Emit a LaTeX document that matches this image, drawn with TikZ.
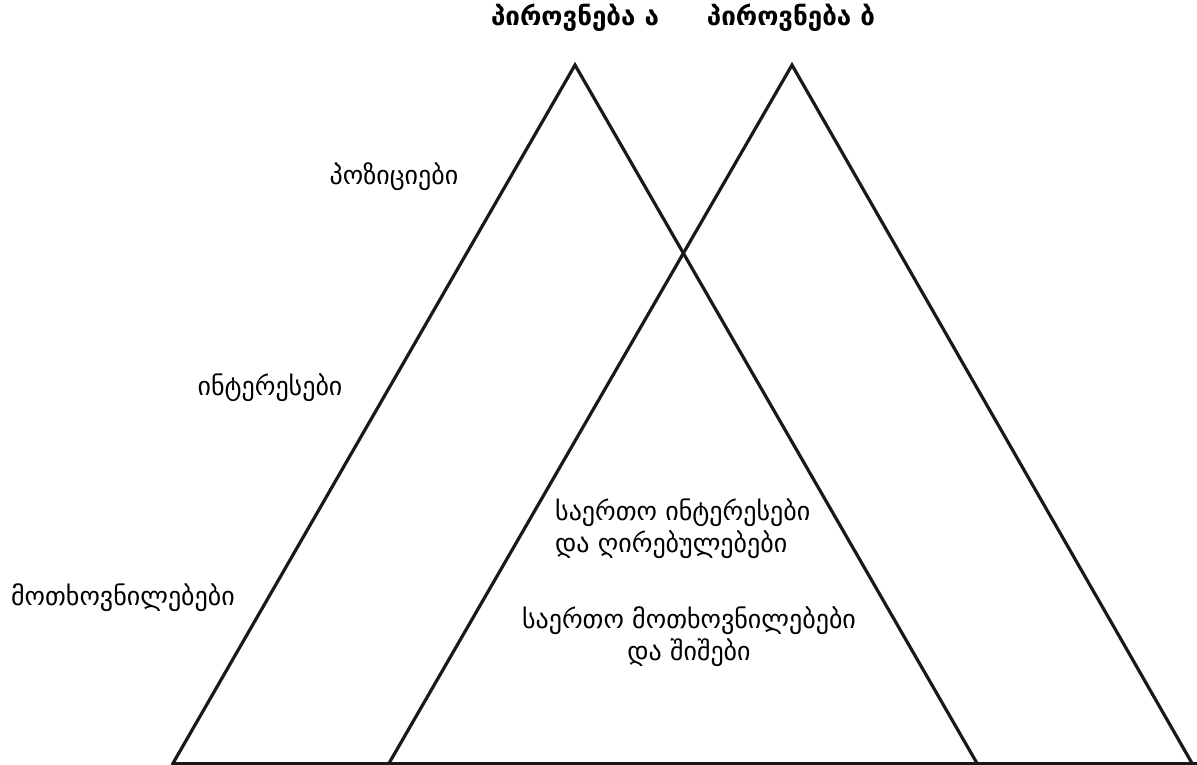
\documentclass[tikz,border=0pt]{standalone}
\usepackage{fontspec}
\setmainfont{DejaVu Sans}
\begin{document}
\begin{tikzpicture}[x=1pt,y=-1pt,
  leg/.style={line width=3.2pt,draw=black!90,line join=miter},
  lbl/.style={font=\fontsize{26}{32}\selectfont,inner sep=0pt},
  ttl/.style={font=\bfseries\fontsize{26}{30}\selectfont,inner sep=0pt}]
\useasboundingbox (0,0) rectangle (1197,765);
\coordinate (aTop) at (575,65);
\coordinate (aL) at (172,765);
\coordinate (aR) at (978,765);
\coordinate (bTop) at (792,65);
\coordinate (bL) at (388,765);
\coordinate (bR) at (1193,765);
\coordinate (baseL) at (172,763.5);
\coordinate (baseR) at (1197,763.5);
\draw[leg] (aL) -- (aTop) -- (aR);
\draw[leg] (bL) -- (bTop) -- (bR);
\draw[leg] (baseL) -- (baseR);
\node[ttl] (ta) at (575,18) {პიროვნება ა};
\node[ttl] (tb) at (791,18) {პიროვნება ბ};
\node[lbl] (pos) at (394,177) {პოზიციები};
\node[lbl] (int) at (270,388) {ინტერესები};
\node[lbl] (need) at (123,598) {მოთხოვნილებები};
\node[lbl,align=left,anchor=west] (common1) at (555,529) {საერთო ინტერესები\\და ღირებულებები};
\node[lbl,align=center] (common2) at (689,637) {საერთო მოთხოვნილებები\\და შიშები};
\end{tikzpicture}
\end{document}
